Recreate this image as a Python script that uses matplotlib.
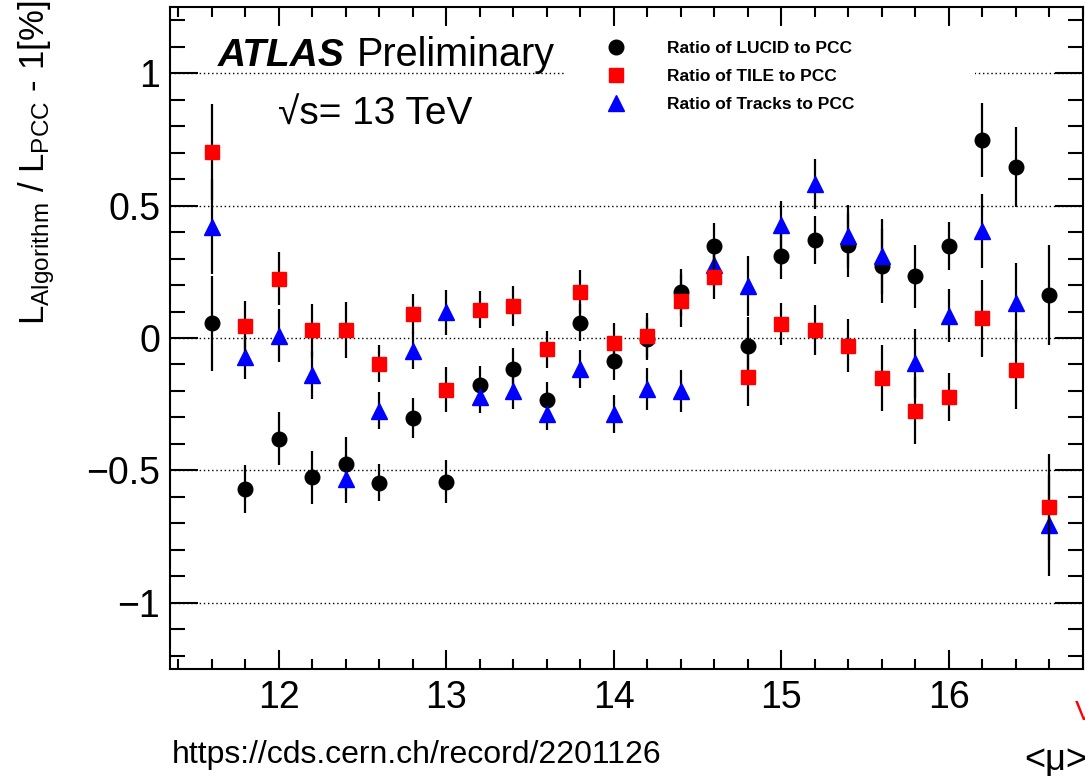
import numpy as np
import matplotlib.pyplot as plt
from matplotlib.ticker import MultipleLocator
from matplotlib.lines import Line2D

plt.rcParams['font.family'] = ['Liberation Sans', 'DejaVu Sans']
plt.rcParams['mathtext.fontset'] = 'custom'
plt.rcParams['mathtext.rm'] = 'Liberation Sans'
plt.rcParams['mathtext.default'] = 'regular'

# <mu> bins
mu = [11.6, 11.8, 12.0, 12.2, 12.4, 12.6, 12.8, 13.0, 13.2, 13.4, 13.6, 13.8, 14.0,
      14.2, 14.4, 14.6, 14.8, 15.0, 15.2, 15.4, 15.6, 15.8, 16.0, 16.2, 16.4, 16.6]

lucid = [0.055, -0.570, -0.381, -0.526, -0.475, -0.547, -0.303, -0.542, -0.177, -0.117,
         -0.236, 0.057, -0.088, -0.004, 0.172, 0.348, -0.030, 0.311, 0.371, 0.351,
         0.273, 0.233, 0.348, 0.747, 0.646, 0.162]
lucid_err = [0.18, 0.09, 0.10, 0.10, 0.10, 0.07, 0.076, 0.08, 0.07, 0.08, 0.07, 0.07, 0.07,
             0.08, 0.09, 0.085, 0.11, 0.09, 0.09, 0.12, 0.14, 0.12, 0.09, 0.14, 0.15, 0.19]

tile = [0.702, 0.046, 0.223, 0.030, 0.030, -0.098, 0.091, -0.196, 0.107, 0.120,
        -0.042, 0.175, -0.020, 0.009, 0.141, 0.231, -0.146, 0.053, 0.030, -0.029,
        -0.152, -0.274, -0.224, 0.074, -0.119, -0.639]
tile_err = [0.18, 0.095, 0.10, 0.10, 0.105, 0.07, 0.075, 0.085, 0.07, 0.075, 0.07, 0.08, 0.077,
            0.085, 0.10, 0.085, 0.11, 0.08, 0.094, 0.10, 0.125, 0.126, 0.09, 0.145, 0.15, 0.20]

tracks = [0.42, -0.073, 0.009, -0.14, -0.532, -0.274, -0.048, 0.097, -0.224, -0.199,
          -0.287, -0.117, -0.287, -0.192, -0.199, 0.277, 0.197, 0.426, 0.581, 0.384,
          0.308, -0.096, 0.084, 0.405, 0.132, -0.708]
tracks_err = [0.18, 0.08, 0.10, 0.09, 0.09, 0.07, 0.07, 0.085, 0.06, 0.07, 0.06, 0.07, 0.07,
              0.08, 0.08, 0.085, 0.113, 0.09, 0.094, 0.12, 0.14, 0.13, 0.10, 0.14, 0.15, 0.19]

labels = ['Ratio of LUCID to PCC', 'Ratio of TILE to PCC', 'Ratio of Tracks to PCC']

W, H = 1085, 776
fig = plt.figure(figsize=(W / 100, H / 100), dpi=100)
ax = fig.add_axes([170 / W, 1 - 669 / H, (1083 - 170) / W, (669 - 7) / H])

ax.set_xlim(11.35, 16.80)
ax.set_ylim(-1.25, 1.25)

for yv in [-1, -0.5, 0, 0.5, 1]:
    ax.axhline(yv, color='black', lw=1.0, ls=(0, (1, 2)), zorder=1)

ax.errorbar(mu, lucid, yerr=lucid_err, fmt='o', color='black', ms=10.5,
            ecolor='black', elinewidth=1.6, capsize=0, zorder=3)
ax.errorbar(mu, tracks, yerr=tracks_err, fmt='^', color='#0000ff', ms=11,
            mec='#0000ff', ecolor='black', elinewidth=1.6, capsize=0, zorder=4)
ax.errorbar(mu, tile, yerr=tile_err, fmt='s', color='#ff0000', ms=10,
            mec='#ff0000', ecolor='black', elinewidth=1.6, capsize=0, zorder=5)

# axis style (ROOT-like)
ax.xaxis.set_major_locator(MultipleLocator(1))
ax.xaxis.set_minor_locator(MultipleLocator(0.2))
ax.yaxis.set_major_locator(MultipleLocator(0.5))
ax.yaxis.set_minor_locator(MultipleLocator(0.1))
ax.tick_params(axis='both', which='both', direction='in', top=True, right=True,
               width=1.5, colors='black', labelsize=27)
ax.tick_params(axis='x', which='major', length=14, pad=8)
ax.tick_params(axis='x', which='minor', length=7.5)
ax.tick_params(axis='y', which='major', length=20, pad=7)
ax.tick_params(axis='y', which='minor', length=11)
ax.set_yticks([-1, -0.5, 0, 0.5, 1])
ax.set_yticklabels(['\u22121', '\u22120.5', '0', '0.5', '1'])
for s in ax.spines.values():
    s.set_linewidth(1.5)

handles = [
    Line2D([], [], ls='none', marker='o', color='black', ms=10.5),
    Line2D([], [], ls='none', marker='s', color='#ff0000', ms=10),
    Line2D([], [], ls='none', marker='^', color='#0000ff', ms=11),
]
leg = ax.legend(handles, labels, loc='upper left', mode='expand',
                bbox_to_anchor=(565 / W, 1 - 34 / H, (975 - 565) / W, 0),
                bbox_transform=fig.transFigure, borderaxespad=0,
                prop={'weight': 'bold', 'size': 12.5}, borderpad=0.4,
                handlelength=5.1, handletextpad=0.4, labelspacing=0.75,
                frameon=True, fancybox=False, framealpha=1)
leg.get_frame().set_edgecolor('none')
leg.get_frame().set_facecolor('white')
leg.set_zorder(6)

fig.text(218 / W, 1 - 66 / H, 'ATLAS', fontsize=28, fontweight='bold',
         fontstyle='italic', va='baseline', ha='left')
fig.text(357 / W, 1 - 66 / H, 'Preliminary', fontsize=28.5, va='baseline', ha='left')
fig.text(278 / W, 1 - 125 / H, '\u221as= 13 TeV', fontsize=28, va='baseline', ha='left')

fig.text(37 / W, 1 - 1 / H, r'$L_{Algorithm}$ / $L_{PCC}$ - 1[%]', fontsize=25,
         rotation=90, ha='center', va='top')

fig.text(172 / W, 1 - 763 / H, 'https://cds.cern.ch/record/2201126', fontsize=23,
         va='baseline', ha='left')
fig.text(1024 / W, 1 - 770 / H, '<\u03bc>', fontsize=26, va='baseline', ha='left')
fig.text(1075 / W, 1 - 720 / H, 'V', fontsize=20, color='red', va='baseline', ha='left')

fig.savefig('out.png', dpi=100)
